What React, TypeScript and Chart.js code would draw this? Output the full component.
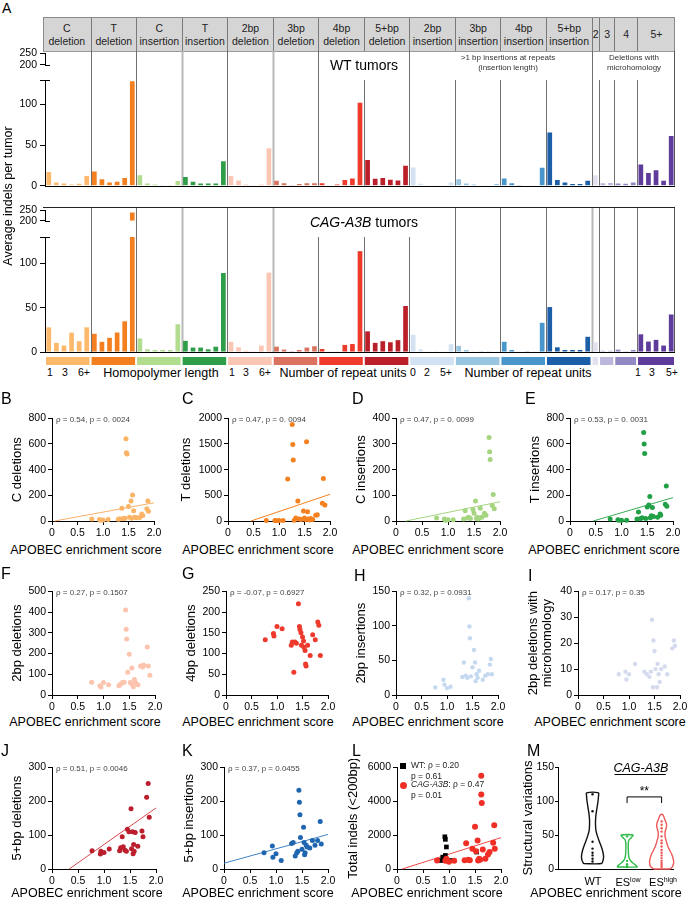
import React, { useEffect, useRef } from 'react';
import { Chart, registerables } from 'chart.js';

Chart.register(...registerables);

const FONT = '"Liberation Sans", Arial, Helvetica, sans-serif';
Chart.defaults.font.family = FONT;
Chart.defaults.color = '#000';

// ---------------- Panel A data ----------------
const groupLabels = [
  ['C', 'deletion'], ['T', 'deletion'], ['C', 'insertion'], ['T', 'insertion'],
  ['2bp', 'deletion'], ['3bp', 'deletion'], ['4bp', 'deletion'], ['5+bp', 'deletion'],
  ['2bp', 'insertion'], ['3bp', 'insertion'], ['4bp', 'insertion'], ['5+bp', 'insertion'],
  ['2'], ['3'], ['4'], ['5+'],
];
const groupSizes = [6, 6, 6, 6, 6, 6, 6, 6, 6, 6, 6, 6, 1, 2, 3, 5];
const groupColors = [
  '#fdb96b', '#f47f20', '#b2dc8e', '#2f9e48',
  '#fcc6b4', '#da735f', '#ef3b2c', '#bb1f2a',
  '#d2e2f3', '#98c6e2', '#4896cc', '#1c5fa8',
  '#e2e1ef', '#bab6dc', '#9189c3', '#5f3b9b',
];

// WT tumors (average indels per tumor)
const wtHomopolymer = [17, 4, 2.7, 1.5, 2.3, 12, 17.5, 8, 3.8, 5, 9.5, 128.5, 13, 2.7, 1.5, 0.3, 0.3, 5.7, 10.7, 5, 2.7, 2.7, 2.7, 30];
const wtRepeatDeletions = [12, 6.5, 1.5, 0.3, 1.5, 46, 6, 3, 0.3, 2, 3, 3, 3, 0.5, 1.5, 7, 9, 102, 31.5, 8.5, 9.5, 7.3, 6.5, 24.5];
const wtRepeatInsertions = [22.5, 2.3, 0.5, 0.3, 0.5, 3.8, 8, 2.7, 1.5, 0.5, 0.5, 2, 9, 3, 1, 0.5, 0.5, 22, 65.5, 7, 3.8, 2, 2, 6];
const wtMicrohomology = [13, 3, 3.4, 2.7, 2.3, 3.8, 26, 15.6, 19, 6, 61];

// CAG-A3B tumors
const cagHomopolymer = [27.9, 10.3, 7.3, 21.8, 12.2, 27.9, 20.6, 11.5, 16, 22, 34.7, 240, 15.3, 3, 2.3, 2.3, 2.3, 31.3, 12.6, 5, 5, 3, 6, 89.3];
const cagRepeatDeletions = [11.5, 5.3, 1.5, 0.3, 7.3, 89.7, 6, 2.7, 0.3, 2.3, 5, 6.5, 3.4, 0.5, 0.5, 8, 9, 114, 23.3, 10.3, 12.2, 11, 13.4, 52];
const cagRepeatInsertions = [19.5, 3, 0.8, 0.3, 0.8, 8.8, 6.9, 2.3, 0.5, 0.2, 0.3, 0.5, 11.5, 2.3, 0.5, 0.3, 0.5, 33, 50.8, 5.3, 2.3, 2.3, 2.3, 17.2];
const cagMicrohomology = [11, 1.5, 1.5, 2.7, 0.8, 2.3, 20, 11.8, 13.7, 7.3, 42.4];

const lowerTicks = [0, 50, 100, 130];
const upperTicks = [200, 250];

// separators between groups: full height (true) or only below annotation band (false)
const wtSeparatorFull = [true, true, true, true, true, true, false, true, false, false, false, true, false, false, false];
const cagSeparatorFull = [true, true, true, true, true, false, false, false, true, true, true, true, true, true, true];
const wtSeparatorLight = [false, false, true, false, true, false, false, false, false, false, false, false, false, false, false];
const cagSeparatorLight = [false, false, true, false, true, false, false, false, false, false, false, true, false, false, false];

// ---------------- Scatter data (APOBEC enrichment score, count) ----------------
const bPoints = [[0.78, 16], [0.93, 12], [0.95, 6], [1.0, 8], [1.1, 12], [1.3, 14], [1.33, 18], [1.37, 99], [1.4, 20], [1.43, 22], [1.45, 640], [1.46, 532], [1.47, 522], [1.5, 112], [1.52, 30], [1.55, 156], [1.56, 22], [1.58, 203], [1.6, 80], [1.62, 30], [1.66, 25], [1.72, 28], [1.76, 55], [1.78, 42], [1.86, 95], [1.88, 155], [1.89, 75]];
const cPoints = [[0.75, 10], [0.92, 8], [0.95, 5], [1.0, 10], [1.08, 8], [1.26, 1880], [1.27, 1490], [1.28, 1190], [1.17, 820], [1.3, 15], [1.33, 60], [1.37, 390], [1.4, 40], [1.43, 30], [1.48, 195], [1.5, 60], [1.52, 30], [1.54, 1545], [1.56, 180], [1.57, 40], [1.6, 20], [1.62, 50], [1.66, 30], [1.72, 110], [1.75, 120], [1.85, 345], [1.87, 830], [1.9, 310]];
const dPoints = [[0.78, 12], [0.93, 8], [0.95, 3], [1.0, 5], [1.1, 5], [1.3, 8], [1.33, 40], [1.37, 12], [1.4, 15], [1.43, 10], [1.48, 45], [1.5, 30], [1.53, 78], [1.55, 10], [1.56, 15], [1.58, 8], [1.6, 12], [1.62, 50], [1.65, 15], [1.7, 30], [1.73, 22], [1.79, 325], [1.8, 270], [1.81, 240], [1.85, 60], [1.87, 103], [1.89, 48]];
const ePoints = [[0.78, 15], [0.93, 10], [0.95, 5], [1.0, 5], [1.1, 5], [1.3, 15], [1.33, 70], [1.37, 20], [1.4, 25], [1.43, 690], [1.44, 600], [1.45, 525], [1.47, 20], [1.5, 110], [1.53, 125], [1.55, 190], [1.56, 25], [1.58, 40], [1.6, 105], [1.62, 35], [1.7, 30], [1.75, 55], [1.76, 45], [1.85, 130], [1.87, 272], [1.88, 115]];
const fPoints = [[0.77, 62], [0.93, 45], [0.95, 38], [1.0, 60], [1.1, 50], [1.3, 45], [1.33, 52], [1.37, 60], [1.4, 62], [1.43, 410], [1.44, 317], [1.45, 270], [1.47, 110], [1.5, 197], [1.52, 60], [1.55, 130], [1.56, 50], [1.58, 40], [1.6, 75], [1.62, 60], [1.67, 50], [1.72, 140], [1.76, 135], [1.78, 145], [1.85, 232], [1.87, 140], [1.9, 95]];
const gPoints = [[0.77, 133], [0.93, 148], [0.94, 142], [1.0, 165], [1.1, 160], [1.28, 120], [1.3, 128], [1.33, 55], [1.35, 128], [1.38, 125], [1.42, 220], [1.44, 165], [1.45, 158], [1.47, 150], [1.48, 120], [1.5, 140], [1.52, 130], [1.53, 115], [1.55, 107], [1.56, 75], [1.57, 70], [1.6, 120], [1.65, 95], [1.7, 145], [1.75, 133], [1.8, 176], [1.82, 168], [1.85, 95]];
const hPoints = [[0.77, 11], [0.93, 22], [0.95, 15], [1.0, 10], [1.07, 12], [1.3, 26], [1.33, 47], [1.37, 28], [1.4, 25], [1.43, 140], [1.44, 99], [1.45, 82], [1.47, 27], [1.5, 40], [1.53, 65], [1.55, 47], [1.56, 20], [1.58, 30], [1.6, 25], [1.63, 35], [1.7, 22], [1.75, 28], [1.8, 30], [1.84, 44], [1.86, 52], [1.88, 30]];
const iPoints = [[0.8, 8], [0.93, 9], [0.95, 6], [1.0, 8], [1.12, 12], [1.3, 9], [1.35, 8], [1.4, 7], [1.43, 9], [1.45, 29], [1.47, 3], [1.48, 21], [1.5, 17], [1.52, 10], [1.55, 3], [1.56, 12], [1.58, 8], [1.6, 5], [1.63, 10], [1.7, 11], [1.75, 8], [1.85, 18], [1.88, 21], [1.9, 19]];
const jPoints = [[0.77, 54], [0.93, 44], [0.94, 52], [0.95, 48], [1.0, 49], [1.1, 59], [1.3, 54], [1.32, 63], [1.35, 95], [1.37, 66], [1.4, 56], [1.43, 52], [1.45, 117], [1.48, 110], [1.52, 178], [1.53, 60], [1.55, 110], [1.56, 45], [1.57, 72], [1.58, 52], [1.6, 108], [1.65, 67], [1.73, 112], [1.75, 95], [1.82, 212], [1.85, 252], [1.87, 153]];
const kPoints = [[0.77, 48], [0.93, 68], [0.94, 35], [1.0, 45], [1.1, 25], [1.3, 75], [1.33, 78], [1.37, 38], [1.4, 48], [1.42, 52], [1.44, 232], [1.45, 197], [1.46, 160], [1.47, 93], [1.5, 58], [1.53, 123], [1.54, 78], [1.55, 42], [1.56, 48], [1.58, 70], [1.6, 65], [1.65, 62], [1.7, 84], [1.75, 70], [1.8, 84], [1.85, 140], [1.87, 74]];
const lWtPoints = [[0.85, 500], [0.88, 700], [0.92, 1900], [0.93, 1750], [0.95, 1300], [0.93, 800], [0.97, 500], [1.05, 500], [1.53, 1000]];
const lCagPoints = [[0.77, 500], [0.93, 480], [0.95, 600], [1.0, 430], [1.1, 480], [1.3, 520], [1.33, 1520], [1.37, 550], [1.4, 520], [1.45, 1200], [1.5, 2500], [1.52, 1050], [1.55, 1680], [1.56, 500], [1.58, 600], [1.6, 550], [1.62, 5500], [1.62, 4400], [1.63, 3900], [1.65, 1150], [1.7, 600], [1.75, 850], [1.78, 1000], [1.85, 1550], [1.87, 2580], [1.88, 1200]];

// regression line end points
const bTrend = [[0.05, 0], [2.0, 142]];
const cTrend = [[0.45, 0], [2.0, 520]];
const dTrend = [[0.19, 0], [2.0, 75]];
const eTrend = [[0.45, 0], [2.0, 182]];
const jTrend = [[0.33, 0], [2.0, 180]];
const kTrend = [[0.0, 17], [2.0, 102]];
const lTrend = [[0.1, 0], [2.0, 1850]];

const esTicks = [0, 0.5, 1.0, 1.5, 2.0];

// ---------------- Panel M (violins) ----------------
const mCategories = ['WT', 'ES low', 'ES high'];
const mWtLevels = [8, 12, 18, 25, 32, 40, 48, 56, 64, 72, 80, 90, 100, 108, 112];
const mWtHalf = [0.26, 0.3, 0.32, 0.3, 0.26, 0.2, 0.145, 0.1, 0.087, 0.087, 0.1, 0.13, 0.16, 0.174, 0.174];
const mWtDots = [110, 85, 40, 30, 24, 20, 15, 11];
const mLowLevels = [3, 5, 8, 11, 15, 20, 30, 38, 43, 46, 50];
const mLowHalf = [0.29, 0.26, 0.19, 0.12, 0.07, 0.045, 0.035, 0.035, 0.06, 0.12, 0.17];
const mLowDots = [48, 12, 7, 4, 3];
const mHighLevels = [0, 4, 10, 16, 22, 28, 35, 42, 48, 54, 60, 64, 68, 72, 76, 80];
const mHighHalf = [0.23, 0.32, 0.35, 0.33, 0.29, 0.23, 0.17, 0.13, 0.1, 0.1, 0.13, 0.145, 0.13, 0.1, 0.07, 0.03];
const mHighDots = [70, 65, 60, 55, 48, 42, 38, 33, 28, 24, 20, 16, 12, 9, 6, 3];
const mTicks = [0, 50, 100, 150];

// ---------------- geometry ----------------
const A_LEFT = 45;
const A_RIGHT = 675;
const A_CANVAS_W = 690;
const N_BARS = groupSizes.reduce((s, v) => s + v, 0);
const SLOT = (A_RIGHT - A_LEFT) / N_BARS;
const groupStarts = groupSizes.map((_, i) => groupSizes.slice(0, i).reduce((s, v) => s + v, 0));
const barColors = groupSizes.flatMap((n, g) => Array(n).fill(groupColors[g]));
const barLabels = groupSizes.flatMap((n, g) => Array.from({ length: n }, (_, k) => `${groupLabels[g].join(' ')} ${k + 1}`));
const wtValues = [...wtHomopolymer, ...wtRepeatDeletions, ...wtRepeatInsertions, ...wtMicrohomology];
const cagValues = [...cagHomopolymer, ...cagRepeatDeletions, ...cagRepeatInsertions, ...cagMicrohomology];

const baseOptions = {
  responsive: false,
  animation: false,
  events: [],
  devicePixelRatio: 1,
};

function fixedTicks(values) {
  return (scale) => {
    scale.ticks = values.map((v) => ({ value: v }));
  };
}

function barConfig(values, kind, panel) {
  const lower = kind === 'lower';
  const data = lower
    ? values.map((v) => Math.min(v, lowerTicks[lowerTicks.length - 1]))
    : values.map((v) => (v > upperTicks[0] ? [upperTicks[0], v] : null));
  const full = panel === 'wt' ? wtSeparatorFull : cagSeparatorFull;
  const light = panel === 'wt' ? wtSeparatorLight : cagSeparatorLight;
  const plugin = {
    id: 'panelA' + kind + panel,
    beforeDatasetsDraw(chart) {
      if (!lower) return;
      const { ctx, chartArea: a, scales } = chart;
      const x = scales.x;
      ctx.save();
      groupStarts.slice(1).forEach((b, i) => {
        const px = Math.round(x.getPixelForValue(b - 0.5)) + 0.5;
        ctx.strokeStyle = light[i] ? '#b8b8b8' : '#707070';
        ctx.lineWidth = light[i] ? 2 : 1;
        ctx.beginPath();
        ctx.moveTo(px, full[i] ? 0 : a.top);
        ctx.lineTo(px, a.bottom);
        ctx.stroke();
      });
      ctx.strokeStyle = '#555';
      ctx.lineWidth = 1;
      ctx.beginPath();
      ctx.moveTo(Math.round(a.right) - 0.5, 0);
      ctx.lineTo(Math.round(a.right) - 0.5, a.bottom);
      ctx.stroke();
      if (panel === 'cag') {
        ctx.strokeStyle = '#222';
        ctx.beginPath();
        ctx.moveTo(43, 0.5);
        ctx.lineTo(a.right, 0.5);
        ctx.stroke();
      }
      ctx.restore();
    },
    afterDraw(chart) {
      const { ctx, chartArea: a, scales } = chart;
      const x = scales.x;
      ctx.save();
      ctx.strokeStyle = '#000';
      ctx.lineWidth = 1;
      if (lower) {
        ctx.beginPath();
        ctx.moveTo(a.left, Math.round(a.bottom) + 0.5);
        ctx.lineTo(a.right, Math.round(a.bottom) + 0.5);
        ctx.stroke();
        ctx.beginPath();
        ctx.moveTo(a.left - 5, Math.round(a.top) + 0.5);
        ctx.lineTo(a.left + 5, Math.round(a.top) + 0.5);
        ctx.stroke();
        if (panel === 'cag') {
          groupSizes.forEach((n, g) => {
            const x0 = x.getPixelForValue(groupStarts[g] - 0.5) + 1;
            const x1 = x.getPixelForValue(groupStarts[g] + n - 0.5) - 1;
            ctx.fillStyle = groupColors[g];
            ctx.fillRect(x0, a.bottom + 5, x1 - x0, 8);
          });
        }
      } else {
        ctx.beginPath();
        ctx.moveTo(a.left, Math.round(a.bottom) + 0.5);
        ctx.lineTo(a.left + 5, Math.round(a.bottom) + 0.5);
        ctx.stroke();
      }
      ctx.restore();
    },
  };
  const ticks = lower ? lowerTicks : upperTicks;
  return {
    type: 'bar',
    data: {
      labels: barLabels,
      datasets: [{
        data,
        backgroundColor: barColors,
        borderWidth: 0,
        barPercentage: 0.62,
        categoryPercentage: 1,
      }],
    },
    options: {
      ...baseOptions,
      layout: { padding: lower ? { top: panel === 'wt' ? 29 : 30, bottom: panel === 'wt' ? 1 : 14, left: 0, right: A_CANVAS_W - A_RIGHT } : { top: 8, bottom: 8, left: 0, right: A_CANVAS_W - A_RIGHT } },
      plugins: { legend: { display: false }, tooltip: { enabled: false } },
      scales: {
        x: { type: 'category', display: false, offset: true },
        y: {
          min: ticks[0],
          max: ticks[ticks.length - 1],
          afterBuildTicks: fixedTicks(ticks),
          afterFit: (s) => { s.width = A_LEFT; },
          ticks: {
            font: { size: 10.5 },
            color: '#000',
            padding: 3,
            autoSkip: false,
            callback: (v) => (lower && v === lowerTicks[lowerTicks.length - 1] ? '' : String(v)),
          },
          grid: { display: true, drawOnChartArea: false, drawTicks: true, tickLength: 5, color: '#000' },
          border: { display: true, color: '#000', width: 1 },
        },
      },
    },
    plugins: [plugin],
  };
}

function scatterConfig(p) {
  const datasets = [];
  p.series.forEach((s) => {
    datasets.push({
      type: 'scatter',
      data: s.points.map(([x, y]) => ({ x, y })),
      backgroundColor: s.color,
      borderColor: s.color,
      borderWidth: 0,
      pointRadius: s.radius || 2.5,
      pointStyle: s.style || 'circle',
      clip: false,
      order: 1,
    });
  });
  if (p.trend) {
    datasets.push({
      type: 'line',
      data: p.trend.map(([x, y]) => ({ x, y })),
      borderColor: p.trendColor,
      borderWidth: 1,
      pointRadius: 0,
      fill: false,
      clip: false,
      order: 2,
    });
  }
  return {
    type: 'scatter',
    data: { datasets },
    options: {
      ...baseOptions,
      layout: { padding: { top: 8, right: 10, left: 0, bottom: 0 } },
      plugins: { legend: { display: false }, tooltip: { enabled: false } },
      scales: {
        x: {
          type: 'linear',
          min: 0,
          max: 2,
          afterBuildTicks: fixedTicks(esTicks),
          afterFit: (s) => { s.height = 20; },
          ticks: { font: { size: 10.5 }, color: '#000', padding: 2, maxRotation: 0, autoSkip: false, callback: (v) => (v === 0 ? '0' : Number(v).toFixed(1)) },
          grid: { display: true, drawOnChartArea: false, drawTicks: true, tickLength: 4, color: '#000' },
          border: { display: true, color: '#000', width: 1 },
        },
        y: {
          min: 0,
          max: p.yTicks[p.yTicks.length - 1],
          afterBuildTicks: fixedTicks(p.yTicks),
          afterFit: (s) => { s.width = p.yw; },
          ticks: { font: { size: 10.5 }, color: '#000', padding: 2, autoSkip: false, callback: (v) => String(v) },
          grid: { display: true, drawOnChartArea: false, drawTicks: true, tickLength: 4, color: '#000' },
          border: { display: true, color: '#000', width: 1 },
          title: { display: true, text: p.yTitle, font: { size: 13, lineHeight: 1.05 }, color: '#000', padding: { top: 3, bottom: 0 } },
        },
      },
    },
  };
}

function violinOutline(center, levels, half) {
  const left = levels.map((y, i) => ({ x: center - half[i], y }));
  const right = levels.map((y, i) => ({ x: center + half[i], y })).reverse();
  return [...left, ...right, left[0]];
}

const M_YW = 37;

function violinConfig() {
  const violins = [
    { levels: mWtLevels, half: mWtHalf, dots: mWtDots, color: '#111' },
    { levels: mLowLevels, half: mLowHalf, dots: mLowDots, color: '#2cba48' },
    { levels: mHighLevels, half: mHighHalf, dots: mHighDots, color: '#f05a5a' },
  ];
  const datasets = [];
  violins.forEach((v, i) => {
    datasets.push({
      type: 'line',
      data: violinOutline(i, v.levels, v.half),
      borderColor: v.color,
      borderWidth: 1.4,
      pointRadius: 0,
      tension: 0.3,
      fill: false,
      clip: false,
    });
    datasets.push({
      type: 'scatter',
      data: v.dots.map((y) => ({ x: i, y })),
      backgroundColor: v.color,
      borderWidth: 0,
      pointRadius: 1.2,
      clip: false,
    });
  });
  const plugin = {
    id: 'mAnnot',
    afterDatasetsDraw(chart) {
      const { ctx, scales: { x, y } } = chart;
      ctx.save();
      ctx.strokeStyle = '#000';
      ctx.lineWidth = 1;
      ctx.beginPath();
      ctx.moveTo(x.getPixelForValue(1), y.getPixelForValue(97));
      ctx.lineTo(x.getPixelForValue(1), y.getPixelForValue(106));
      ctx.lineTo(x.getPixelForValue(2), y.getPixelForValue(106));
      ctx.lineTo(x.getPixelForValue(2), y.getPixelForValue(97));
      ctx.stroke();
      ctx.beginPath();
      ctx.moveTo(x.getPixelForValue(0.64), Math.round(y.getPixelForValue(139)) + 0.5);
      ctx.lineTo(x.getPixelForValue(2.12), Math.round(y.getPixelForValue(139)) + 0.5);
      ctx.stroke();
      ctx.fillStyle = '#000';
      ctx.textAlign = 'center';
      ctx.textBaseline = 'middle';
      ctx.font = '12px ' + FONT;
      ctx.fillText('**', x.getPixelForValue(1.5), y.getPixelForValue(114));
      ctx.font = 'italic 12.5px ' + FONT;
      ctx.fillText('CAG-A3B', x.getPixelForValue(1.4), y.getPixelForValue(148));
      ctx.restore();
    },
  };
  return {
    type: 'scatter',
    data: { datasets },
    options: {
      ...baseOptions,
      layout: { padding: { top: 8, right: 10, left: 0, bottom: 0 } },
      plugins: { legend: { display: false }, tooltip: { enabled: false } },
      scales: {
        x: {
          type: 'linear',
          min: -1,
          max: 2.33,
          afterBuildTicks: fixedTicks([0, 1, 2]),
          afterFit: (s) => { s.height = 20; },
          ticks: { display: true, callback: () => '', font: { size: 10 } },
          grid: { display: false },
          border: { display: true, color: '#000', width: 1 },
        },
        y: {
          min: 0,
          max: mTicks[mTicks.length - 1],
          afterBuildTicks: fixedTicks(mTicks),
          afterFit: (s) => { s.width = M_YW; },
          ticks: { font: { size: 10.5 }, color: '#000', padding: 1, autoSkip: false },
          grid: { display: true, drawOnChartArea: false, drawTicks: true, tickLength: 3, color: '#000' },
          border: { display: true, color: '#000', width: 1 },
          title: { display: true, text: 'Structural variations', font: { size: 13 }, color: '#000', padding: { top: 0, bottom: 0 } },
        },
      },
    },
    plugins: [plugin],
  };
}

function ChartCanvas({ left, top, width, height, make }) {
  const ref = useRef(null);
  useEffect(() => {
    const chart = new Chart(ref.current, make());
    return () => chart.destroy();
  }, []);
  return (
    <canvas
      ref={ref}
      width={width}
      height={height}
      style={{ position: 'absolute', left, top, width, height }}
    />
  );
}

function Txt({ x, y, size = 12, anchor = 'c', color = '#000', italic = false, rotate = false, children }) {
  const tx = anchor === 'l' ? '0' : anchor === 'r' ? '-100%' : '-50%';
  return (
    <div
      style={{
        position: 'absolute',
        left: x,
        top: y,
        transform: `translate(${tx},-50%)${rotate ? ' rotate(-90deg)' : ''}`,
        fontSize: size,
        lineHeight: `${size + 1}px`,
        fontFamily: FONT,
        fontStyle: italic ? 'italic' : 'normal',
        color,
        whiteSpace: 'pre',
      }}
    >
      {children}
    </div>
  );
}

function Letter({ x, y, children, size = 16 }) {
  return (
    <div style={{ position: 'absolute', left: x, top: y, fontSize: size, lineHeight: `${size}px`, fontFamily: FONT }}>{children}</div>
  );
}

function Header() {
  return (
    <div
      style={{
        position: 'absolute', left: 43, top: 17, width: A_RIGHT - 43, height: 35,
        background: '#d5d5d5', borderTop: '1px solid #8a8a8a', borderLeft: '1px solid #8a8a8a',
        borderRight: '1px solid #8a8a8a', borderBottom: '1px solid #9a9a9a', boxSizing: 'border-box',
      }}
    >
      {groupSizes.map((n, g) => {
        const x0 = g === 0 ? 43 : A_LEFT + groupStarts[g] * SLOT;
        const x1 = A_LEFT + (groupStarts[g] + n) * SLOT;
        return (
          <div
            key={g}
            style={{
              position: 'absolute', left: x0 - 44, width: x1 - x0, top: 0, bottom: 0,
              borderLeft: g > 0 ? '1px solid #7a7a7a' : 'none', boxSizing: 'border-box',
              display: 'flex', flexDirection: 'column', alignItems: 'center', justifyContent: 'center',
              fontFamily: FONT, fontSize: 10.5, lineHeight: '13px', color: '#222', textAlign: 'center', whiteSpace: 'nowrap',
            }}
          >
            {groupLabels[g].map((l, k) => <div key={k}>{l}</div>)}
          </div>
        );
      })}
    </div>
  );
}

const scatterPanels = [
  { id: 'B', axisX: 52, top: 418, w: 102, h: 103, yw: 44, yTicks: [0, 200, 400, 600, 800], yTitle: 'C deletions', series: [{ points: bPoints, color: '#fbb466' }], trend: bTrend, trendColor: '#f9b06a', note: 'ρ = 0.54, p = 0. 0024', titleX: 86, titleY: 551, letterX: 1, letterY: 391 },
  { id: 'C', axisX: 228, top: 418, w: 102, h: 103, yw: 51, yTicks: [0, 500, 1000, 1500, 2000], yTitle: 'T deletions', series: [{ points: cPoints, color: '#f5801f' }], trend: cTrend, trendColor: '#f5801f', note: 'ρ = 0.47, p = 0. 0094', titleX: 258, titleY: 551, letterX: 182, letterY: 391 },
  { id: 'D', axisX: 396, top: 418, w: 104, h: 103, yw: 44, yTicks: [0, 100, 200, 300, 400], yTitle: 'C insertions', series: [{ points: dPoints, color: '#a5d57f' }], trend: dTrend, trendColor: '#a5d57f', note: 'ρ = 0.47, p = 0. 0099', titleX: 428, titleY: 551, letterX: 352, letterY: 391 },
  { id: 'E', axisX: 570, top: 418, w: 103, h: 103, yw: 44, yTicks: [0, 200, 400, 600, 800], yTitle: 'T insertions', series: [{ points: ePoints, color: '#22a047' }], trend: eTrend, trendColor: '#3aad55', note: 'ρ = 0.53, p = 0. 0031', titleX: 604, titleY: 551, letterX: 525, letterY: 391 },
  { id: 'F', axisX: 52, top: 591, w: 103, h: 104, yw: 44, yTicks: [0, 100, 200, 300, 400, 500], yTitle: '2bp deletions', series: [{ points: fPoints, color: '#fcc3ae' }], note: 'ρ = 0.27, p = 0.1507', titleX: 85, titleY: 723, letterX: 1, letterY: 566 },
  { id: 'G', axisX: 226, top: 591, w: 102, h: 104, yw: 44, yTicks: [0, 50, 100, 150, 200, 250], yTitle: '4bp deletions', series: [{ points: gPoints, color: '#ee3a2c' }], note: 'ρ = -0.07, p = 0.6927', titleX: 258, titleY: 723, letterX: 182, letterY: 566 },
  { id: 'H', axisX: 396, top: 591, w: 102, h: 104, yw: 44, yTicks: [0, 50, 100, 150], yTitle: '2bp insertions', series: [{ points: hPoints, color: '#c4d9ef', radius: 2.2 }], note: 'ρ = 0.32, p = 0.0931', titleX: 428, titleY: 723, letterX: 354, letterY: 568 },
  { id: 'I', axisX: 578, top: 591, w: 102, h: 104, yw: 54, yTicks: [0, 10, 20, 30, 40], yTitle: ['2bp deletions with', 'microhomology'], series: [{ points: iPoints, color: '#d5dbee', radius: 2.2 }], note: 'ρ = 0.17, p = 0.35', titleX: 610, titleY: 723, letterX: 528, letterY: 568 },
  { id: 'J', axisX: 52, top: 767, w: 104, h: 102, yw: 44, yTicks: [0, 100, 200, 300], yTitle: '5+bp deletions', series: [{ points: jPoints, color: '#bb1e2c' }], trend: jTrend, trendColor: '#d9474f', note: 'ρ = 0.51, p = 0.0046', titleX: 87, titleY: 894, letterX: 1, letterY: 743 },
  { id: 'K', axisX: 224, top: 767, w: 104, h: 102, yw: 44, yTicks: [0, 100, 200, 300], yTitle: '5+bp insertions', series: [{ points: kPoints, color: '#1f66b1' }], trend: kTrend, trendColor: '#3d82c4', note: 'ρ = 0.37, p = 0.0455', titleX: 258, titleY: 894, letterX: 182, letterY: 743 },
  { id: 'L', axisX: 397, top: 767, w: 104, h: 102, yw: 53, yTicks: [0, 2000, 4000, 6000], yTitle: 'Total indels (<200bp)', series: [{ points: lCagPoints, color: '#ef2f25', radius: 3 }, { points: lWtPoints, color: '#000', radius: 3.3, style: 'rect' }], trend: lTrend, trendColor: '#ef4b45', note: '', titleX: 427, titleY: 894, letterX: 352, letterY: 743 },
];

export default function App() {
  return (
    <div style={{ position: 'absolute', left: 0, top: 0, width: 690, height: 900, background: '#fff', overflow: 'hidden', fontFamily: FONT }}>
      {/* ---------- Panel A ---------- */}
      <Letter x={2} y={1} size={14}>A</Letter>
      <Header />
      <ChartCanvas left={0} top={51} width={A_CANVAS_W} height={144} make={() => barConfig(wtValues, 'lower', 'wt')} />
      <ChartCanvas left={0} top={44} width={A_CANVAS_W} height={30} make={() => barConfig(wtValues, 'upper', 'wt')} />
      <ChartCanvas left={0} top={207} width={A_CANVAS_W} height={159} make={() => barConfig(cagValues, 'lower', 'cag')} />
      <ChartCanvas left={0} top={201} width={A_CANVAS_W} height={29} make={() => barConfig(cagValues, 'upper', 'cag')} />
      <Txt x={9} y={196} size={12.5} rotate>Average indels per tumor</Txt>
      <Txt x={364} y={65} size={14}>WT tumors</Txt>
      <Txt x={508} y={57} size={8} color="#333">{'>1 bp insertions at repeats'}</Txt>
      <Txt x={508} y={67} size={8} color="#333">(insertion length)</Txt>
      <Txt x={634} y={57} size={8} color="#333">Deletions with</Txt>
      <Txt x={634} y={67} size={8} color="#333">microhomology</Txt>
      <Txt x={364} y={222} size={14}><i>CAG-A3B</i> tumors</Txt>
      {[['1', 50], ['3', 65], ['6+', 84], ['1', 232], ['3', 246], ['6+', 265], ['0', 413], ['2', 427], ['5+', 446], ['1', 638], ['3', 652], ['5+', 672]].map(([t, x], i) => (
        <Txt key={i} x={x} y={373} size={10.5}>{t}</Txt>
      ))}
      <Txt x={161} y={374} size={12.5}>Homopolymer length</Txt>
      <Txt x={343} y={374} size={12.5}>Number of repeat units</Txt>
      <Txt x={528} y={374} size={12.5}>Number of repeat units</Txt>

      {/* ---------- Scatter panels ---------- */}
      {scatterPanels.map((p) => (
        <React.Fragment key={p.id}>
          <ChartCanvas
            left={p.axisX - p.yw}
            top={p.top - 8}
            width={p.yw + p.w + 10}
            height={8 + p.h + 20}
            make={() => scatterConfig(p)}
          />
          <Letter x={p.letterX} y={p.letterY}>{p.id}</Letter>
          {p.note ? <Txt x={p.axisX + 4} y={p.top + 1} size={8} anchor="l" color="#444">{p.note}</Txt> : null}
          <Txt x={p.titleX} y={p.titleY} size={12.5}>APOBEC enrichment score</Txt>
        </React.Fragment>
      ))}

      {/* L legend */}
      <div style={{ position: 'absolute', left: 400, top: 763, width: 6, height: 6, background: '#000' }} />
      <Txt x={411} y={766} size={8.5} anchor="l" color="#222">WT: ρ = 0.20</Txt>
      <Txt x={411} y={777} size={8.5} anchor="l" color="#222">p = 0.61</Txt>
      <div style={{ position: 'absolute', left: 399.5, top: 781.5, width: 7, height: 7, borderRadius: '50%', background: '#ef2f25' }} />
      <Txt x={411} y={785} size={8.5} anchor="l" color="#222"><i>CAG-A3B</i>: ρ = 0.47</Txt>
      <Txt x={411} y={796} size={8.5} anchor="l" color="#222">p = 0.01</Txt>

      {/* Panel M */}
      <ChartCanvas left={558 - M_YW} top={767 - 8} width={M_YW + 115 + 10} height={8 + 102 + 20} make={violinConfig} />
      <Letter x={527} y={743}>M</Letter>
      <Txt x={593} y={881} size={11}>{mCategories[0]}</Txt>
      <Txt x={628} y={881} size={11}>ES<sup style={{ fontSize: 7 }}>low</sup></Txt>
      <Txt x={663} y={881} size={11}>ES<sup style={{ fontSize: 7 }}>high</sup></Txt>
      <Txt x={606} y={894} size={12.5}>APOBEC enrichment score</Txt>
    </div>
  );
}
